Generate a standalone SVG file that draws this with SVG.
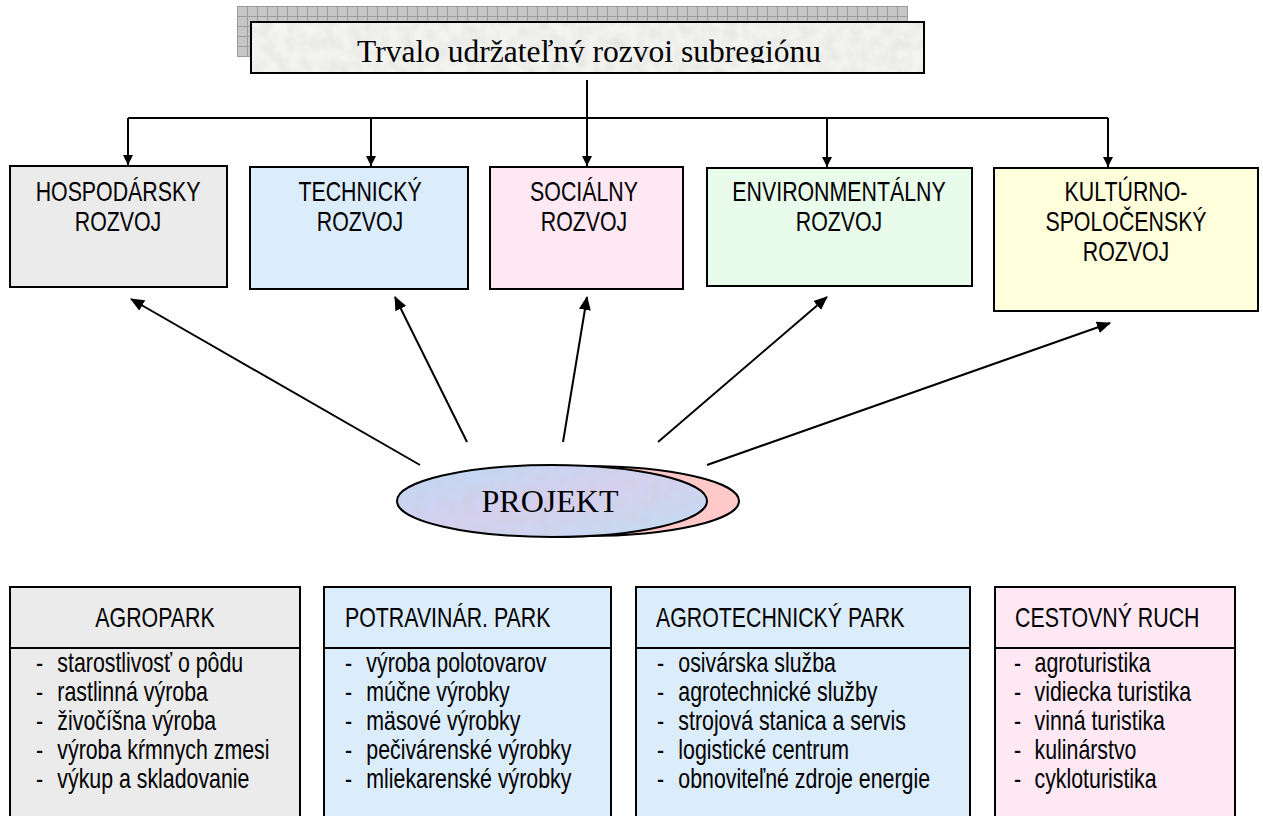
<svg xmlns="http://www.w3.org/2000/svg" width="1263" height="816" viewBox="0 0 1263 816">
<defs>
<style>
.box{stroke:#000;stroke-width:2}
.t{font-family:"Liberation Sans",Arial,sans-serif;font-size:27px;fill:#000}
.c{text-anchor:middle}
.ln{stroke:#000;stroke-width:2;fill:none}
</style>
<pattern id="grid" width="10" height="10" patternUnits="userSpaceOnUse" x="237" y="6">
<rect width="10" height="10" fill="#c6c6c6"/>
<path d="M0 0.5H10M0.5 0V10" stroke="#9c9c9c" stroke-width="1"/>
</pattern>
<linearGradient id="ell" x1="0" y1="0" x2="1" y2="1">
<stop offset="0" stop-color="#bddaf6"/>
<stop offset="0.5" stop-color="#d6d0f0"/>
<stop offset="1" stop-color="#c0def4"/>
</linearGradient>
<filter id="tex" x="0" y="0" width="1" height="1">
<feTurbulence type="fractalNoise" baseFrequency="0.08" numOctaves="2" seed="3" result="n"/>
<feColorMatrix in="n" type="matrix" values="0 0 0 0 0.6  0 0 0 0 0.6  0 0 0 0 0.6  0.7 0 0 0 -0.25" result="m"/>
<feComposite in="m" in2="SourceGraphic" operator="in" result="mm"/>
<feMerge><feMergeNode in="SourceGraphic"/><feMergeNode in="mm"/></feMerge>
</filter>
<marker id="ah" markerWidth="14" markerHeight="12" refX="13" refY="6" orient="auto" markerUnits="userSpaceOnUse">
<path d="M0 0L14 6L0 12Z" fill="#000"/>
</marker>
<marker id="ad" markerWidth="10" markerHeight="10" refX="10" refY="5" orient="auto" markerUnits="userSpaceOnUse">
<path d="M0 0L10 5L0 10Z" fill="#000"/>
</marker>
<clipPath id="tclip"><rect x="251" y="22" width="673" height="41"/></clipPath>
</defs>
<rect width="1263" height="816" fill="#fff"/>

<g id="title">
<rect x="237" y="6" width="671" height="51" fill="url(#grid)"/>
<rect x="251" y="22" width="673" height="51" fill="#f3f3f0" filter="url(#tex)"/>
<rect x="251" y="22" width="673" height="51" fill="none" class="box"/>
<text x="589" y="62" clip-path="url(#tclip)" text-anchor="middle" font-family="Liberation Serif,Times New Roman,serif" font-size="31.5">Trvalo udržateľný rozvoi subregiónu</text>
</g>

<g id="connectors">
<path class="ln" d="M587 80V166" marker-end="url(#ad)"/>
<path class="ln" d="M128 118H1108"/>
<path class="ln" d="M128 118V165" marker-end="url(#ad)"/>
<path class="ln" d="M371 118V166" marker-end="url(#ad)"/>
<path class="ln" d="M827 118V167" marker-end="url(#ad)"/>
<path class="ln" d="M1108 118V167" marker-end="url(#ad)"/>
<path class="ln" d="M420 465L131 299" marker-end="url(#ah)"/>
<path class="ln" d="M467 442L395 297" marker-end="url(#ah)"/>
<path class="ln" d="M563 442L587 297" marker-end="url(#ah)"/>
<path class="ln" d="M658 442L827 297" marker-end="url(#ah)"/>
<path class="ln" d="M707 465L1110 323" marker-end="url(#ah)"/>
</g>

<g id="hospodarsky">
<rect x="10" y="166" width="217" height="121" fill="#ebebeb" class="box"/>
<text class="t c" transform="translate(118 201) scale(0.79 1)">HOSPODÁRSKY<tspan x="0" y="30">ROZVOJ</tspan></text>
</g>
<g id="technicky">
<rect x="250" y="167" width="218" height="122" fill="#dbecfb" class="box"/>
<text class="t c" transform="translate(360 201) scale(0.79 1)">TECHNICKÝ<tspan x="0" y="30">ROZVOJ</tspan></text>
</g>
<g id="socialny">
<rect x="490" y="167" width="193" height="122" fill="#fde8f3" class="box"/>
<text class="t c" transform="translate(584 201) scale(0.79 1)">SOCIÁLNY<tspan x="0" y="30">ROZVOJ</tspan></text>
</g>
<g id="environmentalny">
<rect x="707" y="168" width="265" height="118" fill="#e9fbea" class="box"/>
<text class="t c" transform="translate(839 201) scale(0.79 1)">ENVIRONMENTÁLNY<tspan x="0" y="30">ROZVOJ</tspan></text>
</g>
<g id="kulturno">
<rect x="994" y="168" width="264" height="143" fill="#ffffdc" class="box"/>
<text class="t c" transform="translate(1126 201) scale(0.79 1)">KULTÚRNO-<tspan x="0" y="30">SPOLOČENSKÝ</tspan><tspan x="0" y="60">ROZVOJ</tspan></text>
</g>

<g id="projekt">
<ellipse cx="586" cy="501" rx="153" ry="35" fill="#ffc9c9" class="box"/>
<ellipse cx="552" cy="501" rx="155" ry="36" fill="url(#ell)" filter="url(#tex)"/>
<ellipse cx="552" cy="501" rx="155" ry="36" fill="none" class="box"/>
<text x="550" y="512" text-anchor="middle" font-family="Liberation Serif,Times New Roman,serif" font-size="32">PROJEKT</text>
</g>

<g id="agropark">
<rect x="10" y="587" width="290" height="250" fill="#ebebeb" class="box"/>
<line x1="10" y1="648" x2="300" y2="648" class="box"/>
<text class="t c" transform="translate(155 627) scale(0.79 1)">AGROPARK</text>
<text class="t" transform="translate(36 672) scale(0.79 1)"><tspan x="0">-</tspan><tspan x="27">starostlivosť o pôdu</tspan><tspan x="0" y="29">-</tspan><tspan x="27" y="29">rastlinná výroba</tspan><tspan x="0" y="58">-</tspan><tspan x="27" y="58">živočíšna výroba</tspan><tspan x="0" y="87">-</tspan><tspan x="27" y="87">výroba kŕmnych zmesi</tspan><tspan x="0" y="116">-</tspan><tspan x="27" y="116">výkup a skladovanie</tspan></text>
</g>
<g id="potravinar">
<rect x="324" y="587" width="287" height="250" fill="#dbecfb" class="box"/>
<line x1="324" y1="648" x2="611" y2="648" class="box"/>
<text class="t" transform="translate(345 627) scale(0.79 1)">POTRAVINÁR. PARK</text>
<text class="t" transform="translate(345 672) scale(0.79 1)"><tspan x="0">-</tspan><tspan x="27">výroba polotovarov</tspan><tspan x="0" y="29">-</tspan><tspan x="27" y="29">múčne výrobky</tspan><tspan x="0" y="58">-</tspan><tspan x="27" y="58">mäsové výrobky</tspan><tspan x="0" y="87">-</tspan><tspan x="27" y="87">pečivárenské výrobky</tspan><tspan x="0" y="116">-</tspan><tspan x="27" y="116">mliekarenské výrobky</tspan></text>
</g>
<g id="agrotechnicky">
<rect x="636" y="587" width="334" height="250" fill="#dbecfb" class="box"/>
<line x1="636" y1="648" x2="970" y2="648" class="box"/>
<text class="t" transform="translate(656 627) scale(0.79 1)">AGROTECHNICKÝ PARK</text>
<text class="t" transform="translate(657 672) scale(0.79 1)"><tspan x="0">-</tspan><tspan x="27">osivárska služba</tspan><tspan x="0" y="29">-</tspan><tspan x="27" y="29">agrotechnické služby</tspan><tspan x="0" y="58">-</tspan><tspan x="27" y="58">strojová stanica a servis</tspan><tspan x="0" y="87">-</tspan><tspan x="27" y="87">logistické centrum</tspan><tspan x="0" y="116">-</tspan><tspan x="27" y="116">obnoviteľné zdroje energie</tspan></text>
</g>
<g id="cestovny">
<rect x="995" y="587" width="240" height="250" fill="#fde8f3" class="box"/>
<line x1="995" y1="648" x2="1235" y2="648" class="box"/>
<text class="t" transform="translate(1015 627) scale(0.79 1)">CESTOVNÝ RUCH</text>
<text class="t" transform="translate(1014 672) scale(0.79 1)"><tspan x="0">-</tspan><tspan x="26">agroturistika</tspan><tspan x="0" y="29">-</tspan><tspan x="26" y="29">vidiecka turistika</tspan><tspan x="0" y="58">-</tspan><tspan x="26" y="58">vinná turistika</tspan><tspan x="0" y="87">-</tspan><tspan x="26" y="87">kulinárstvo</tspan><tspan x="0" y="116">-</tspan><tspan x="26" y="116">cykloturistika</tspan></text>
</g>
</svg>
